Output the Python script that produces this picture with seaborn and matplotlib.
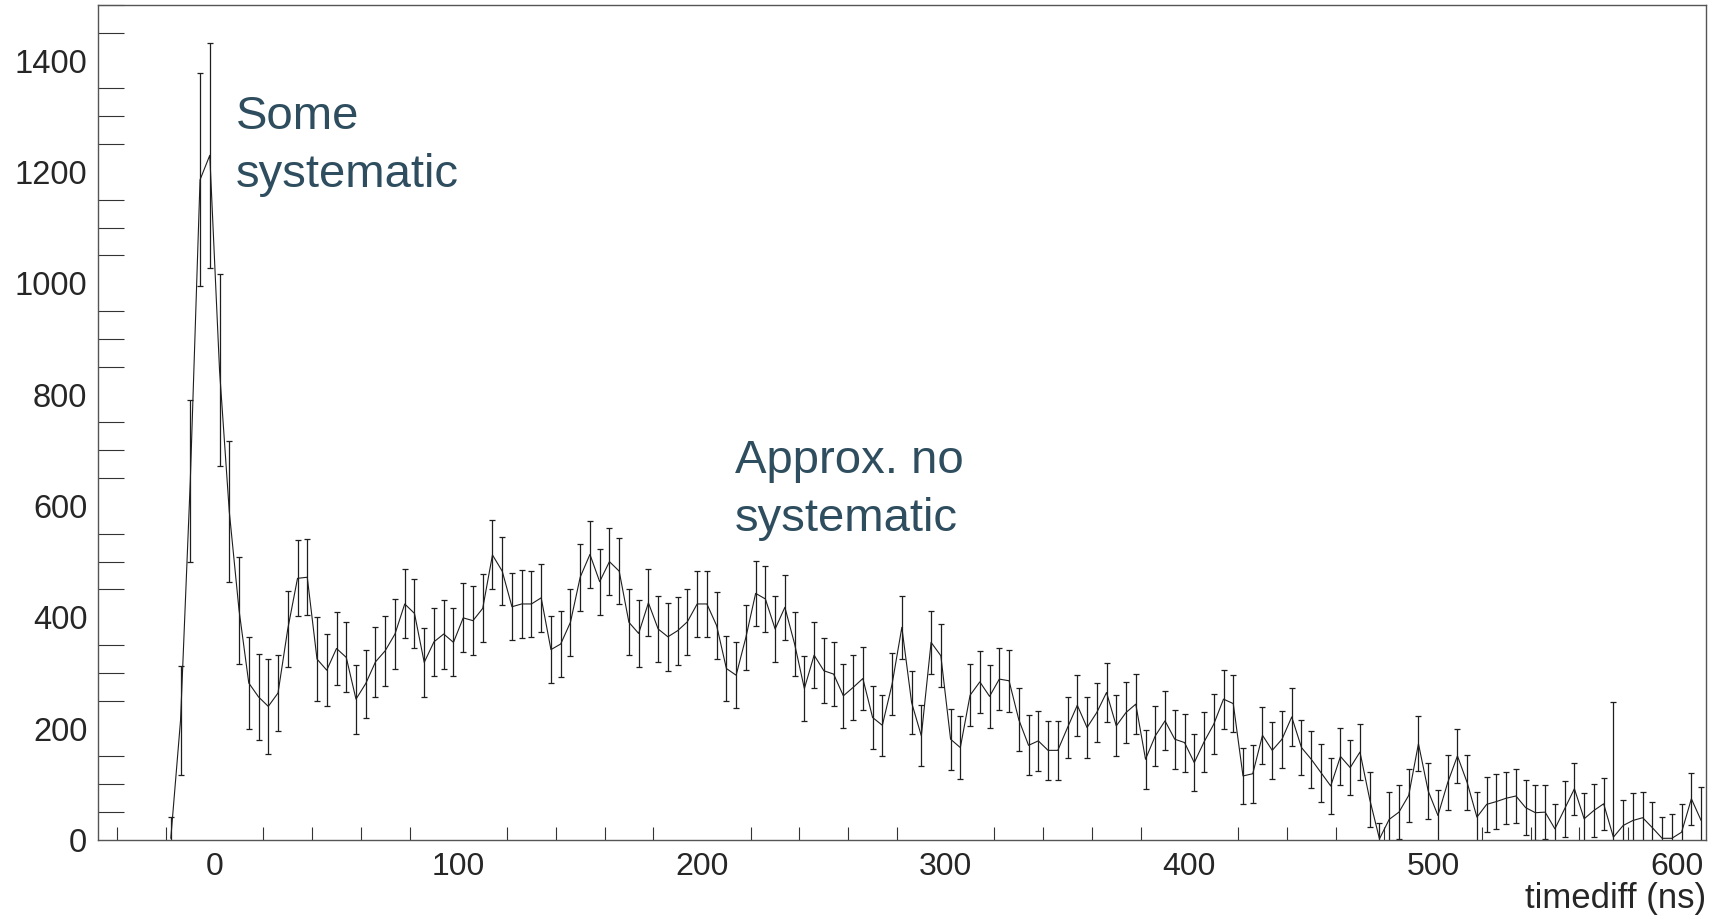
import numpy as np
import pandas as pd
import matplotlib
matplotlib.use("Agg")
import matplotlib.pyplot as plt
import seaborn as sns
from matplotlib.ticker import MultipleLocator

# ---- data (histogram, 4 ns bins, centers from -46 ns to 610 ns) ----
bin_start = -46
bin_width = 4
counts = [
    0, 0, 0, 0, 0, 0, 0, 3, 215, 645,
    1186, 1230, 844, 590, 413, 282, 257, 240, 264, 379,
    470, 472, 325, 305, 344, 328, 253, 281, 320, 340,
    370, 424, 407, 319, 356, 370, 355, 399, 394, 416,
    512, 483, 419, 424, 424, 435, 342, 352, 391, 472,
    513, 464, 500, 483, 391, 371, 426, 379, 365, 376,
    392, 424, 424, 385, 308, 296, 364, 443, 433, 379,
    418, 352, 272, 332, 304, 298, 259, 274, 290, 220,
    206, 280, 382, 247, 187, 355, 331, 181, 166, 260,
    284, 258, 289, 286, 216, 170, 178, 161, 161, 202,
    242, 202, 229, 265, 205, 229, 244, 145, 187, 214,
    181, 175, 139, 176, 208, 253, 245, 115, 119, 188,
    161, 181, 221, 166, 145, 121, 97, 150, 130, 158,
    73, 2, 37, 50, 80, 173, 88, 44, 103, 151,
    103, 41, 64, 69, 75, 79, 58, 49, 50, 20,
    56, 92, 38, 53, 65, 5, 26, 35, 40, 22,
    3, 3, 14, 74, 35,
]
errors = [
    0, 0, 0, 0, 0, 0, 0, 38, 98, 146,
    191, 202, 172, 126, 96, 83, 77, 86, 69, 68,
    68, 68, 75, 65, 65, 63, 62, 61, 63, 63,
    63, 62, 62, 62, 61, 62, 61, 62, 62, 61,
    62, 61, 60, 61, 60, 61, 60, 60, 60, 60,
    60, 59, 60, 59, 59, 60, 60, 60, 61, 61,
    59, 59, 59, 60, 59, 59, 59, 59, 59, 59,
    58, 58, 58, 59, 58, 58, 58, 58, 57, 56,
    55, 55, 56, 56, 55, 57, 57, 55, 56, 56,
    56, 56, 56, 56, 57, 54, 54, 53, 53, 55,
    55, 54, 53, 53, 55, 54, 54, 53, 54, 53,
    53, 52, 51, 53, 54, 53, 51, 51, 52, 51,
    51, 51, 52, 50, 51, 52, 51, 51, 50, 50,
    50, 29, 49, 49, 48, 49, 50, 46, 50, 48,
    49, 45, 49, 49, 47, 48, 49, 49, 49, 45,
    50, 47, 46, 47, 47, 242, 46, 49, 46, 46,
    39, 43, 50, 47, 60,
]
x_label = "timediff (ns)"
note_left = "Some\nsystematic"
note_right = "Approx. no\nsystematic"
x_ticks = [0, 100, 200, 300, 400, 500, 600]
y_ticks = [0, 200, 400, 600, 800, 1000, 1200, 1400]

centers = [bin_start + bin_width * i for i in range(len(counts))]
df = pd.DataFrame({"timediff": centers, "entries": counts, "err": errors})
# empty leading bins (zero content and zero error) are not drawn
df_filled = df[(df["entries"] > 0) | (df["err"] > 0)]

# ---- style ----
sns.set_style("white")
plt.rcParams["font.family"] = ["Liberation Sans", "DejaVu Sans"]

fig = plt.figure(figsize=(17.16, 9.16), dpi=100)
ax = fig.add_axes([0.05693, 0.0830, 0.93724, 0.91154])

line_col = "#1e1e1e"
sns.lineplot(data=df_filled, x="timediff", y="entries", ax=ax, color=line_col,
             linewidth=0.8, estimator=None, sort=False)
ax.errorbar(df_filled["timediff"], df_filled["entries"], yerr=df_filled["err"],
            fmt="none", ecolor=line_col, elinewidth=0.9, capsize=2.5,
            capthick=0.9)

ax.set_xlim(-48, 612)
ax.set_ylim(0, 1500)
ax.set_xticks(x_ticks)
ax.set_yticks(y_ticks)
ax.xaxis.set_minor_locator(MultipleLocator(20))
ax.yaxis.set_minor_locator(MultipleLocator(50))

ax.tick_params(axis="x", which="major", direction="in", length=18, width=0.8,
               color="#333333", labelsize=23, pad=9, top=False)
ax.tick_params(axis="x", which="minor", direction="in", length=9.2, width=0.8,
               color="#333333", top=False, bottom=True)
ax.tick_params(axis="y", which="major", direction="in", length=35, width=0.8,
               color="#333333", labelsize=23.5, pad=7.5, right=False)
ax.tick_params(axis="y", which="minor", direction="in", length=18.5, width=0.8,
               color="#333333", left=True, right=False)

for s in ax.spines.values():
    s.set_visible(True)
    s.set_color("#555555")
    s.set_linewidth(1.0)

ax.set_ylabel("")
ax.set_xlabel(x_label, fontsize=25)
ax.xaxis.set_label_coords(1.0, -0.0820)
ax.xaxis.label.set_ha("right")
ax.xaxis.label.set_va("baseline")

text_col = "#2e4d5e"
fig.text(0.1375, 1 - 95 / 916, note_left, fontsize=34, color=text_col,
         ha="left", va="top", linespacing=1.4)
fig.text(0.4283, 1 - 439 / 916, note_right, fontsize=34, color=text_col,
         ha="left", va="top", linespacing=1.4)

fig.savefig("out.png", dpi=100)
